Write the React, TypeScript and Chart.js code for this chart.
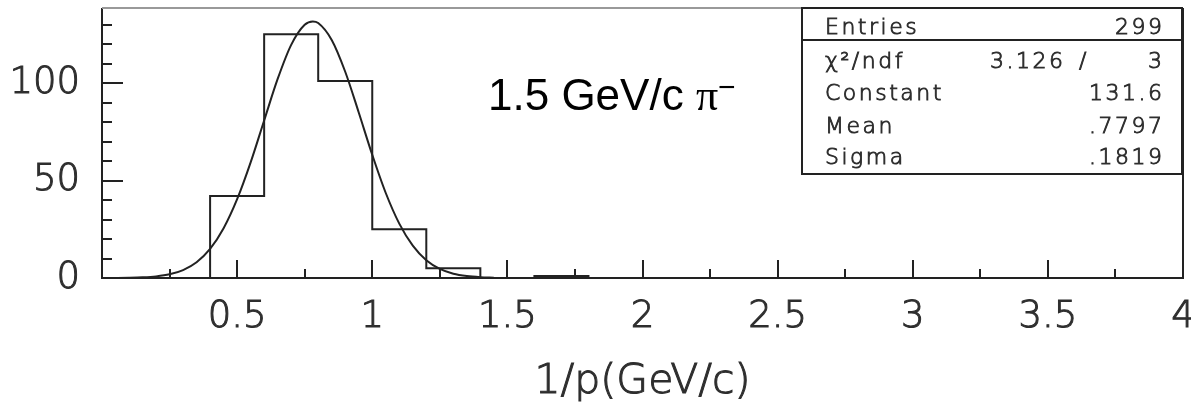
import { useEffect, useRef } from "react";
import { Chart, registerables } from "chart.js";

Chart.register(...registerables);

// Histogram: bin edges and counts (Entries = 299)
const binEdges = [0.4, 0.6, 0.8, 1.0, 1.2, 1.4, 1.6, 1.8];
const binCounts = [42, 125, 101, 25, 5, 0, 1];

// Gaussian fit curve
const fitX = [0.0, 0.05, 0.1, 0.15, 0.2, 0.25, 0.3, 0.35, 0.4, 0.45, 0.5, 0.55, 0.6, 0.65, 0.7, 0.75, 0.78, 0.8, 0.85, 0.9, 0.95, 1.0, 1.05, 1.1, 1.15, 1.2, 1.25, 1.3, 1.35, 1.4, 1.45];
const fitY = [0.01, 0.04, 0.12, 0.33, 0.82, 1.89, 4.07, 8.08, 14.9, 25.5, 40.4, 59.3, 80.8, 102.1, 119.6, 129.9, 131.6, 130.8, 122.1, 105.8, 84.9, 63.2, 43.6, 27.9, 16.6, 9.1, 4.65, 2.2, 0.97, 0.39, 0.15];

// Axes
const xTickValues = [0.5, 1, 1.5, 2, 2.5, 3, 3.5, 4];
const xTickLabels = ["0.5", "1", "1.5", "2", "2.5", "3", "3.5", "4"];
const xMinorTicks = [0.25, 0.75, 1.25, 1.75, 2.25, 2.75, 3.25, 3.75];
const yTickValues = [0, 50, 100];
const yTickLabels = ["0", "50", "100"];
const yMinorTicks = [10, 20, 30, 40, 60, 70, 80, 90, 110, 120, 130];
const xTitle = "1/p(GeV/c)";

// Stats box
const statsLabels = ["Entries", "χ²/ndf", "Constant", "Mean", "Sigma"];
const statsValues = ["299", "3", "131.6", ".7797", ".1819"];
const chi2Value = "3.126";
const annotationText = "1.5 GeV/c ";
const annotationSymbol = "π";
const annotationCharge = "−";

const INK = "#222";
const TEXT = "#2e2e2e";
const LIGHT = "300";

function histOutline() {
  const pts: { x: number; y: number }[] = [{ x: binEdges[0], y: 0 }];
  for (let i = 0; i < binCounts.length; i++) {
    pts.push({ x: binEdges[i], y: binCounts[i] });
    pts.push({ x: binEdges[i + 1], y: binCounts[i] });
  }
  pts.push({ x: binEdges[binEdges.length - 1], y: 0 });
  return pts;
}

function zeroPad(s: any) {
  s.paddingTop = 0;
  s.paddingBottom = 0;
  s.paddingLeft = 0;
  s.paddingRight = 0;
}

function strokedText(ctx: CanvasRenderingContext2D, t: string, x: number, y: number, w: number) {
  ctx.fillText(t, x, y);
  ctx.lineWidth = w;
  ctx.strokeText(t, x, y);
}

const decorPlugin = {
  id: "decor",
  afterDatasetsDraw(chart: any) {
    const { ctx, chartArea: a, scales } = chart;
    const x = scales.x;
    const y = scales.y;
    ctx.save();
    // inward ticks
    ctx.strokeStyle = INK;
    ctx.lineWidth = 2;
    ctx.beginPath();
    for (const v of xTickValues) {
      if (v >= 4) continue;
      const px = Math.round(x.getPixelForValue(v));
      ctx.moveTo(px, a.bottom);
      ctx.lineTo(px, a.bottom - 18);
    }
    for (const v of xMinorTicks) {
      const px = Math.round(x.getPixelForValue(v));
      ctx.moveTo(px, a.bottom);
      ctx.lineTo(px, a.bottom - 9);
    }
    for (const v of yTickValues) {
      if (v === 0) continue;
      const py = Math.round(y.getPixelForValue(v));
      ctx.moveTo(a.left, py);
      ctx.lineTo(a.left + 21, py);
    }
    for (const v of yMinorTicks) {
      const py = Math.round(y.getPixelForValue(v));
      ctx.moveTo(a.left, py);
      ctx.lineTo(a.left + 10, py);
    }
    ctx.stroke();

    // frame
    ctx.beginPath();
    ctx.moveTo(a.left, a.top);
    ctx.lineTo(a.left, a.bottom);
    ctx.lineTo(a.right, a.bottom);
    ctx.lineTo(a.right, a.top);
    ctx.stroke();
    ctx.strokeStyle = "#999";
    ctx.beginPath();
    ctx.moveTo(a.left, a.top);
    ctx.lineTo(a.right, a.top);
    ctx.stroke();

    // x title
    ctx.fillStyle = TEXT;
    ctx.strokeStyle = TEXT;
    ctx.font = LIGHT + " 41px 'DejaVu Sans'";
    ctx.textAlign = "center";
    ctx.textBaseline = "alphabetic";
    strokedText(ctx, xTitle, (a.left + a.right) / 2, 393, 1);

    // annotation
    ctx.fillStyle = "#000";
    ctx.textAlign = "left";
    ctx.font = "44px 'Liberation Sans'";
    let ax = 488;
    ctx.fillText(annotationText, ax, 110);
    ax += ctx.measureText(annotationText).width;
    ctx.font = "44px 'Liberation Serif'";
    ctx.fillText(annotationSymbol, ax, 110);
    ax += ctx.measureText(annotationSymbol).width;
    ctx.font = "30px 'Liberation Sans'";
    ctx.fillText(annotationCharge, ax, 97);

    // stats box
    const bx = 802, by = 8, bw = 380, bh = 166;
    ctx.fillStyle = "#fff";
    ctx.fillRect(bx, by, bw, bh);
    ctx.strokeStyle = INK;
    ctx.lineWidth = 2;
    ctx.strokeRect(bx, by, bw, bh);
    ctx.beginPath();
    ctx.moveTo(bx, 40);
    ctx.lineTo(bx + bw, 40);
    ctx.stroke();

    const baselines = [34, 68, 100, 133, 164];
    const sp = 2.5;
    ctx.fillStyle = TEXT;
    ctx.strokeStyle = TEXT;
    ctx.font = LIGHT + " 22px 'DejaVu Sans'";
    (ctx as any).letterSpacing = sp + "px";
    statsLabels.forEach((lab, i) => {
      ctx.textAlign = "left";
      strokedText(ctx, lab, 825, baselines[i], 0.9);
      ctx.textAlign = "right";
      strokedText(ctx, statsValues[i], 1162 + sp, baselines[i], 0.9);
    });
    ctx.textAlign = "left";
    strokedText(ctx, chi2Value, 990, baselines[1], 0.9);
    strokedText(ctx, "/", 1079, baselines[1], 0.9);
    (ctx as any).letterSpacing = "0px";
    ctx.restore();
  },
};

export default function App() {
  const ref = useRef<HTMLCanvasElement>(null);
  useEffect(() => {
    document.body.style.margin = "0";
    const canvas = ref.current;
    if (!canvas) return;
    const chart = new Chart(canvas, {
      type: "line",
      data: {
        datasets: [
          {
            data: histOutline(),
            borderColor: INK,
            borderWidth: 2,
            pointRadius: 0,
            tension: 0,
            fill: false,
          },
          {
            data: fitX.map((v, i) => ({ x: v, y: fitY[i] })),
            borderColor: INK,
            borderWidth: 2,
            pointRadius: 0,
            cubicInterpolationMode: "monotone",
            fill: false,
          },
        ],
      },
      options: {
        animation: false,
        responsive: false,
        devicePixelRatio: 1,
        layout: { padding: { left: 0, right: 8, top: 8, bottom: 0 }, autoPadding: false },
        plugins: { legend: { display: false }, tooltip: { enabled: false }, title: { display: false } },
        scales: {
          x: {
            type: "linear",
            min: 0,
            max: 4,
            grid: { display: false, drawTicks: false },
            border: { display: false },
            afterBuildTicks: (s: any) => {
              s.ticks = xTickValues.map((v) => ({ value: v }));
            },
            afterFit: (s: any) => {
              s.height = 124;
              zeroPad(s);
            },
            ticks: {
              padding: 17,
              autoSkip: false,
              maxRotation: 0,
              color: TEXT,
              textStrokeColor: TEXT,
              textStrokeWidth: 1,
              font: { family: "'DejaVu Sans'", size: 37, weight: LIGHT, lineHeight: 1.2 },
              callback: (_v: any, i: number) => xTickLabels[i],
            },
          },
          y: {
            type: "linear",
            min: 0,
            max: 138.5,
            grid: { display: false, drawTicks: false },
            border: { display: false },
            afterBuildTicks: (s: any) => {
              s.ticks = yTickValues.map((v) => ({ value: v }));
            },
            afterFit: (s: any) => {
              s.width = 102;
              zeroPad(s);
            },
            ticks: {
              padding: 22,
              autoSkip: false,
              color: TEXT,
              textStrokeColor: TEXT,
              textStrokeWidth: 1,
              font: { family: "'DejaVu Sans'", size: 37, weight: LIGHT, lineHeight: 1.2 },
              callback: (_v: any, i: number) => yTickLabels[i],
            },
          },
        },
      },
      plugins: [decorPlugin],
    } as any);
    return () => chart.destroy();
  }, []);
  return <canvas ref={ref} width={1191} height={402} style={{ display: "block" }} />;
}
